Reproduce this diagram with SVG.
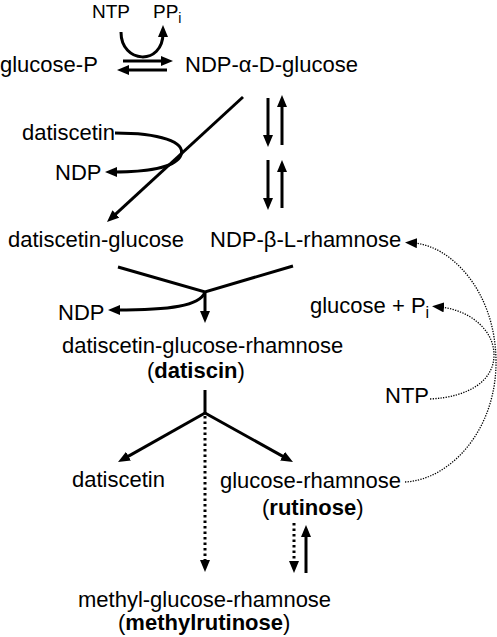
<svg xmlns="http://www.w3.org/2000/svg" width="497" height="637" viewBox="0 0 497 637">
<style>
text{font-family:"Liberation Sans",Arial,sans-serif;font-size:22px;fill:#000}
.sm{font-size:19px}
.b{font-weight:bold}
.s{fill:none;stroke:#000;stroke-width:3}
.dt{fill:none;stroke:#000;stroke-width:3;stroke-dasharray:2.5 3}
.th{fill:none;stroke:#000;stroke-width:1.3;stroke-dasharray:1.3 1.3}
</style>
<defs>
<marker id="a" markerUnits="userSpaceOnUse" markerWidth="12" markerHeight="10" refX="4" refY="5" orient="auto"><path d="M0,0L12,5L0,10z" fill="#000"/></marker>
</defs>
<g id="nodes">
<g id="ntp-top"><text class="sm" x="92" y="18">NTP</text></g>
<g id="ppi-top"><text class="sm" x="153" y="18">PP<tspan font-size="14" dy="5">i</tspan></text></g>
<g id="glucose-p"><text x="0" y="72">glucose-P</text></g>
<g id="ndp-a-d-glucose"><text x="185" y="72">NDP-α-D-glucose</text></g>
<g id="datiscetin-in"><text x="22" y="140">datiscetin</text></g>
<g id="ndp-1"><text x="55" y="180">NDP</text></g>
<g id="datiscetin-glucose"><text x="8" y="247">datiscetin-glucose</text></g>
<g id="ndp-b-l-rhamnose"><text x="210" y="247">NDP-β-L-rhamnose</text></g>
<g id="ndp-2"><text x="58" y="320">NDP</text></g>
<g id="glucose-pi"><text x="310" y="313">glucose + P<tspan font-size="16" dy="5">i</tspan></text></g>
<g id="datiscin"><text x="62" y="353">datiscetin-glucose-rhamnose</text><text x="147" y="378">(<tspan class="b">datiscin</tspan>)</text></g>
<g id="ntp-right"><text x="385" y="403">NTP</text></g>
<g id="datiscetin-out"><text x="72" y="487">datiscetin</text></g>
<g id="rutinose"><text x="220" y="488">glucose-rhamnose</text><text x="262" y="515">(<tspan class="b">rutinose</tspan>)</text></g>
<g id="methylrutinose"><text x="78" y="607">methyl-glucose-rhamnose</text><text x="118" y="630">(<tspan class="b">methylrutinose</tspan>)</text></g>
</g>
<g id="connectors">
<path class="s" d="M121,32C121,64 163,66 163,33" marker-end="url(#a)"/>
<path class="s" d="M123,61H165" marker-end="url(#a)"/>
<path class="s" d="M167,70H125" marker-end="url(#a)"/>
<path class="s" d="M243,97L112.9,216.6" marker-end="url(#a)"/>
<path class="s" d="M115,133C160,133 186,142 181,155C176,168 145,172 113,172" marker-end="url(#a)"/>
<path class="s" d="M268,98V139" marker-end="url(#a)"/>
<path class="s" d="M282,145V103" marker-end="url(#a)"/>
<path class="s" d="M268,160V202" marker-end="url(#a)"/>
<path class="s" d="M282,208V168" marker-end="url(#a)"/>
<path class="s" d="M118,267L205,292L293,266"/>
<path class="s" d="M205,292C200,306 170,310 116,310" marker-end="url(#a)"/>
<path class="s" d="M205,292V315" marker-end="url(#a)"/>
<path class="s" d="M205,390V413"/>
<path class="s" d="M205,413L125,458.1" marker-end="url(#a)"/>
<path class="s" d="M205,413L286,458.1" marker-end="url(#a)"/>
<path class="dt" d="M205,416V564" marker-end="url(#a)"/>
<path class="dt" d="M294,523V565" marker-end="url(#a)"/>
<path class="s" d="M306,573V533" marker-end="url(#a)"/>
<path class="th" d="M405,482C450,480 497,430 496,360C495,290 450,245 413,243" marker-end="url(#a)"/>
<path class="th" d="M430,399C470,397 494,380 494,355C494,330 470,310 440,307" marker-end="url(#a)"/>
</g>
</svg>
